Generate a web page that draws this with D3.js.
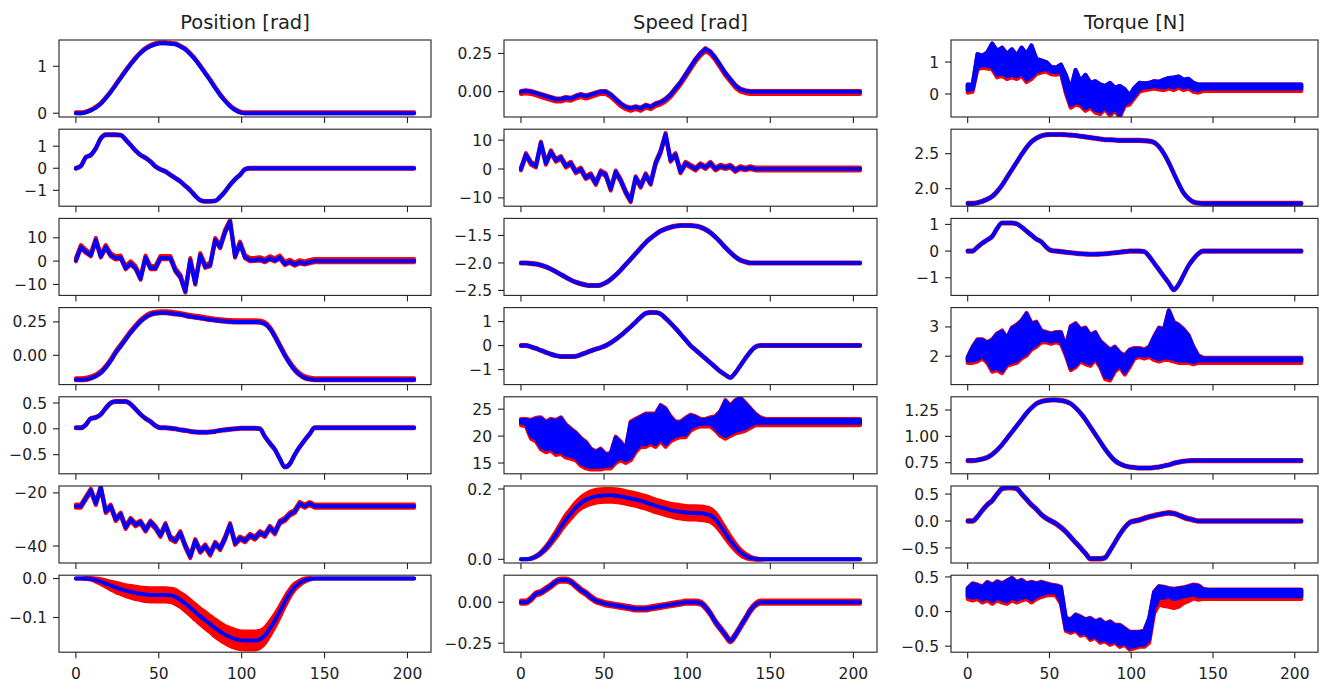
<!DOCTYPE html>
<html>
<head>
<meta charset="utf-8">
<script src="https://cdnjs.cloudflare.com/ajax/libs/d3/7.8.5/d3.min.js"></script>
<style>
body { margin: 0; background: #fff; }
svg { display: block; }
text { font-family: "DejaVu Sans", sans-serif; fill: #222; }
</style>
</head>
<body>
<div id="chart"></div>
<script>
// sample grid (time step)
var X = [0,3,6,9,12,15,18,21,24,27, 30,33,36,39,42,45,48,51,54,57,
         60,63,66,69,72,75,78,81,84,87, 90,93,96,99,102,105,108,111,114,117,
         120,123,126,129,132,135,138,141,144,147, 204];
var xTicks = [0, 50, 100, 150, 200];
var titles = ["Position [rad]", "Speed [rad]", "Torque [N]"];

// ---- Position column
var pos1 = [0,0,0.02,0.06,0.12,0.2,0.32,0.45,0.6,0.75,
            0.9,1.04,1.17,1.28,1.37,1.43,1.47,1.49,1.49,1.48,
            1.47,1.42,1.36,1.26,1.14,1.0,0.85,0.7,0.54,0.39,
            0.26,0.15,0.07,0.02,0,0,0,0,0,0,
            0,0,0,0,0,0,0,0,0,0, 0];
var pos2 = [0,0.1,0.5,0.6,0.9,1.35,1.52,1.52,1.52,1.5,
            1.3,1.05,0.8,0.6,0.47,0.3,0.08,-0.05,-0.15,-0.3,
            -0.45,-0.6,-0.8,-1.0,-1.25,-1.45,-1.5,-1.5,-1.48,-1.3,
            -1.05,-0.75,-0.5,-0.3,-0.05,0,0,0,0,0,
            0,0,0,0,0,0,0,0,0,0, 0];
var pos3 = [0.4,6,4,2.5,9,2,6,2.5,1.2,1.5,
            -3,-1,-3,-7.5,1.5,-3,-3,1.3,1.3,1.3,
            -4,-6.7,-13,0.4,-9.6,2.6,-2.4,-1.7,9,6,
            12.6,16.9,2,7.5,1.7,0.4,0.5,0.8,0,1.2,
            0.3,1.5,-1.2,-0.3,-1.5,-0.5,-1,-0.4,0,0, 0];
var pos4 = [-0.183,-0.183,-0.18,-0.17,-0.155,-0.13,-0.09,-0.04,0.02,0.07,
            0.12,0.17,0.215,0.255,0.285,0.305,0.315,0.318,0.318,0.315,
            0.31,0.305,0.298,0.29,0.285,0.28,0.273,0.268,0.262,0.258,
            0.255,0.252,0.25,0.25,0.25,0.25,0.25,0.248,0.235,0.2,
            0.14,0.07,0.0,-0.06,-0.11,-0.145,-0.168,-0.178,-0.183,-0.183, -0.183];
var pos5 = [0.02,0.02,0.08,0.2,0.22,0.28,0.4,0.5,0.53,0.53,
            0.53,0.48,0.38,0.28,0.2,0.14,0.06,0.02,0.02,0.01,
            0,-0.02,-0.03,-0.05,-0.06,-0.065,-0.065,-0.06,-0.05,-0.03,
            -0.02,-0.01,0,0.01,0.01,0.01,0.01,0,-0.15,-0.28,
            -0.4,-0.58,-0.74,-0.68,-0.5,-0.35,-0.22,-0.1,0.02,0.02, 0.02];
var pos6 = [-25,-25,-22,-19,-24,-18,-27,-25,-30,-28,
            -33,-30,-32,-31,-34,-31,-33,-36,-32,-37,
            -38,-35,-40,-44,-38,-42,-40,-43,-39,-41,
            -37,-32,-39,-37,-38,-36,-37,-35,-36,-33,
            -35,-31,-30,-28,-27,-24,-25,-24,-25,-25, -25];
var pos7 = [0,0,0,-0.001,-0.004,-0.008,-0.013,-0.018,-0.023,-0.027,
            -0.031,-0.034,-0.037,-0.039,-0.041,-0.042,-0.042,-0.042,-0.042,-0.043,
            -0.047,-0.055,-0.064,-0.075,-0.086,-0.097,-0.107,-0.117,-0.127,-0.136,
            -0.144,-0.15,-0.155,-0.158,-0.159,-0.159,-0.159,-0.156,-0.146,-0.128,
            -0.108,-0.085,-0.06,-0.038,-0.021,-0.011,-0.004,-0.001,0,0, 0];
var pos7Spread = [0,0,0.001,0.002,0.004,0.006,0.008,0.01,0.012,0.013,
            0.014,0.015,0.016,0.016,0.017,0.017,0.017,0.017,0.017,0.017,
            0.018,0.018,0.019,0.019,0.02,0.02,0.021,0.021,0.022,0.022,
            0.022,0.023,0.023,0.023,0.023,0.023,0.023,0.022,0.02,0.018,
            0.016,0.014,0.012,0.01,0.008,0.006,0.004,0.002,0,0, 0];

// ---- Speed column
var spd1 = [0,0.005,0,-0.01,-0.02,-0.03,-0.04,-0.05,-0.05,-0.04,
            -0.045,-0.03,-0.02,-0.03,-0.02,-0.01,0,0,-0.02,-0.05,
            -0.08,-0.1,-0.11,-0.1,-0.11,-0.09,-0.1,-0.08,-0.07,-0.05,
            -0.02,0.02,0.06,0.11,0.16,0.21,0.25,0.28,0.26,0.22,
            0.17,0.12,0.08,0.04,0.015,0.005,0,0,0,0, 0];
var spd2 = [0,5,2,1,9,2,6,3,4,1,
            2,-1,0,-3,-2,-5,-1,-2,-7,-1,
            -4,-8,-11,-3,-6,-2,-5,2,6,12,
            3,5,-1,2,1,0,1.5,0.5,2,0,
            1,0.5,1,-0.5,0.5,0,0.5,0,0,0, 0];
var spd3 = [-2.0,-2.0,-2.01,-2.02,-2.04,-2.07,-2.11,-2.16,-2.21,-2.26,
            -2.31,-2.35,-2.38,-2.4,-2.41,-2.41,-2.4,-2.36,-2.3,-2.22,
            -2.13,-2.03,-1.93,-1.83,-1.73,-1.63,-1.55,-1.48,-1.42,-1.38,
            -1.35,-1.33,-1.32,-1.32,-1.32,-1.33,-1.35,-1.39,-1.45,-1.53,
            -1.62,-1.72,-1.81,-1.89,-1.95,-1.98,-2.0,-2.0,-2.0,-2.0, -2.0];
var spd4 = [0,0,-0.05,-0.12,-0.2,-0.28,-0.36,-0.42,-0.45,-0.45,
            -0.45,-0.44,-0.38,-0.3,-0.22,-0.15,-0.08,0,0.12,0.26,
            0.42,0.6,0.78,0.98,1.18,1.34,1.38,1.38,1.32,1.14,
            0.94,0.72,0.48,0.24,0,-0.18,-0.36,-0.54,-0.72,-0.9,
            -1.08,-1.22,-1.33,-1.13,-0.83,-0.53,-0.26,-0.06,0,0, 0];
var spd5Lo = [22.5,22.3,20,19.5,18,17.5,17.8,17,17.2,16.5,
            16.3,16,15,14.5,14.3,14.3,14.3,14.5,14.5,15.5,
            16,15.5,16,17.5,18.5,18.5,19,18.5,19.5,18.5,
            19.5,20,20.3,20.3,21.5,22,22.3,22.3,22.3,21.5,
            20.5,20,20.5,21,21.2,21.5,22,22.5,22.5,22.5, 22.5];
var spd5Hi = [23,23,22.8,23.2,23.3,22.5,23,22.8,23.3,22,
            21.2,20.5,19.5,18.8,17.5,17,17.5,16.5,16.7,19.7,
            18.8,17.5,22.5,23,23.5,24,24,24,25.6,25,
            23.5,22.5,22.5,23.2,23.8,23.5,23,23,23.3,23.5,
            24.5,26.5,25.5,26.5,27,26,25,24,23.3,23, 23];
var spd6 = [0,0,0.002,0.008,0.018,0.032,0.05,0.07,0.092,0.113,
            0.13,0.147,0.16,0.169,0.175,0.179,0.181,0.182,0.182,0.181,
            0.179,0.176,0.173,0.17,0.166,0.162,0.157,0.152,0.148,0.144,
            0.14,0.137,0.135,0.133,0.132,0.132,0.131,0.129,0.125,0.114,
            0.095,0.074,0.053,0.035,0.02,0.01,0.004,0.001,0,0, 0];
var spd6Spread = [0,0,0.001,0.002,0.003,0.005,0.007,0.009,0.011,0.013,
            0.014,0.015,0.016,0.017,0.018,0.018,0.018,0.018,0.018,0.018,
            0.018,0.018,0.018,0.018,0.018,0.018,0.018,0.018,0.018,0.018,
            0.018,0.019,0.019,0.019,0.019,0.019,0.019,0.019,0.019,0.018,
            0.016,0.014,0.012,0.01,0.008,0.006,0.004,0.002,0.001,0, 0];
var spd7 = [0,0,0.02,0.05,0.06,0.08,0.1,0.125,0.135,0.135,
            0.125,0.1,0.075,0.055,0.03,0.01,0,-0.01,-0.015,-0.02,
            -0.025,-0.03,-0.035,-0.04,-0.04,-0.04,-0.035,-0.03,-0.025,-0.02,
            -0.015,-0.01,-0.005,0,0,0,-0.005,-0.03,-0.07,-0.12,
            -0.16,-0.2,-0.235,-0.2,-0.15,-0.1,-0.05,-0.015,0,0, 0];

// ---- Torque column
var trq1Lo = [0.12,0.15,0.85,0.9,0.88,0.85,0.6,0.65,0.55,0.6,
            0.55,0.65,0.45,0.55,0.7,0.75,0.78,0.7,0.68,0.72,
            0.1,-0.35,-0.25,-0.3,-0.45,-0.35,-0.5,-0.55,-0.4,-0.6,
            -0.45,-0.65,-0.3,-0.25,-0.05,0.15,0.2,0.22,0.25,0.22,
            0.2,0.25,0.2,0.28,0.2,0.25,0.15,0.12,0.17,0.17, 0.17];
var trq1Hi = [0.3,0.28,1.25,1.2,1.3,1.58,1.35,1.45,1.25,1.4,
            1.2,1.45,1.25,1.52,1.1,1.05,1.0,0.85,0.82,0.92,
            0.6,0.15,0.75,0.4,0.6,0.35,0.4,0.3,0.25,0.35,
            0.2,0.25,0.15,-0.05,0.2,0.35,0.33,0.35,0.4,0.38,
            0.45,0.5,0.52,0.55,0.45,0.48,0.35,0.3,0.3,0.3, 0.3];
var trq2 = [1.79,1.79,1.8,1.82,1.85,1.89,1.96,2.05,2.16,2.27,
            2.38,2.49,2.59,2.67,2.72,2.755,2.77,2.775,2.775,2.775,
            2.77,2.765,2.76,2.75,2.74,2.73,2.72,2.71,2.7,2.7,
            2.695,2.69,2.69,2.69,2.69,2.69,2.685,2.68,2.66,2.6,
            2.5,2.37,2.22,2.07,1.94,1.86,1.81,1.795,1.79,1.79, 1.79];
var trq3 = [0,0,0.15,0.3,0.42,0.55,0.85,1.05,1.05,1.05,
            1.02,0.9,0.75,0.6,0.45,0.35,0.15,0.02,0,-0.02,
            -0.04,-0.06,-0.08,-0.1,-0.11,-0.12,-0.12,-0.11,-0.1,-0.08,
            -0.06,-0.04,-0.02,0,0,0,-0.02,-0.2,-0.45,-0.7,
            -0.95,-1.2,-1.45,-1.25,-0.9,-0.55,-0.3,-0.1,0,0, 0];
var trq4Lo = [1.85,1.85,1.9,2.0,1.85,1.55,1.6,1.5,1.75,1.8,
            1.85,2.0,2.1,2.3,2.4,2.55,2.55,2.5,2.55,2.5,
            2.1,1.6,1.7,1.9,1.8,1.75,1.95,1.7,1.3,1.25,
            1.55,1.7,1.45,1.7,2.0,2.05,2.0,2.05,1.95,1.9,
            1.95,1.95,1.9,1.85,1.85,1.85,1.8,1.85,1.85,1.85, 1.85];
var trq4Hi = [1.95,2.3,2.55,2.55,2.45,2.55,2.75,2.85,2.6,2.95,
            3.05,3.2,3.45,3.1,3.15,2.85,2.8,2.75,2.8,2.8,
            2.3,3.0,3.1,2.9,2.95,2.7,2.8,2.5,2.35,2.2,
            2.3,2.1,2.0,2.2,2.25,2.25,2.2,2.3,2.65,2.95,
            2.9,3.55,3.15,3.05,2.9,2.7,2.3,2.0,1.92,1.92, 1.92];
var trq5 = [0.77,0.77,0.775,0.785,0.8,0.83,0.87,0.92,0.98,1.04,
            1.1,1.16,1.22,1.27,1.31,1.33,1.34,1.345,1.345,1.34,
            1.33,1.31,1.27,1.22,1.16,1.09,1.02,0.95,0.88,0.82,
            0.77,0.74,0.72,0.71,0.705,0.7,0.7,0.7,0.705,0.71,
            0.72,0.73,0.745,0.755,0.763,0.768,0.77,0.77,0.77,0.77, 0.77];
var trq6 = [0,0,0.08,0.2,0.3,0.38,0.5,0.6,0.62,0.62,
            0.6,0.5,0.4,0.3,0.22,0.12,0.05,0,-0.05,-0.12,
            -0.2,-0.3,-0.4,-0.5,-0.6,-0.7,-0.7,-0.7,-0.68,-0.55,
            -0.4,-0.25,-0.12,-0.03,0,0.02,0.05,0.08,0.1,0.12,
            0.14,0.15,0.14,0.11,0.07,0.04,0.02,0,0,0, 0];
var trq7Lo = [0.22,0.2,0.22,0.17,0.2,0.15,0.2,0.17,0.15,0.2,
            0.17,0.2,0.22,0.17,0.22,0.25,0.27,0.28,0.27,0.15,
            -0.25,-0.28,-0.25,-0.32,-0.3,-0.38,-0.35,-0.42,-0.4,-0.45,
            -0.42,-0.48,-0.45,-0.52,-0.5,-0.48,-0.48,-0.4,0.05,0.2,
            0.2,0.22,0.18,0.2,0.22,0.23,0.25,0.22,0.22,0.22, 0.22];
var trq7Hi = [0.33,0.4,0.38,0.35,0.42,0.38,0.43,0.4,0.44,0.48,
            0.42,0.45,0.4,0.42,0.4,0.42,0.4,0.38,0.37,0.35,
            -0.1,-0.12,-0.05,-0.08,-0.12,-0.1,-0.15,-0.12,-0.18,-0.15,
            -0.2,-0.2,-0.25,-0.3,-0.3,-0.3,-0.28,-0.1,0.28,0.36,
            0.35,0.33,0.32,0.33,0.34,0.36,0.38,0.37,0.32,0.31, 0.31];
var trq7RedDn = [0.04,0.04,0.04,0.04,0.04,0.04,0.04,0.04,0.04,0.04,
            0.04,0.04,0.04,0.04,0.04,0.04,0.04,0.04,0.04,0.04,
            0.03,0.03,0.03,0.03,0.03,0.03,0.03,0.03,0.03,0.03,
            0.03,0.03,0.03,0.03,0.03,0.03,0.03,0.05,0.08,0.1,
            0.12,0.15,0.13,0.13,0.1,0.08,0.06,0.05,0.04,0.04, 0.04];

// axis limits, y ticks, tick formats
var posDom = [[-0.08,1.56],[-1.72,1.77],[-14.7,18.3],[-0.219,0.357],[-0.87,0.62],[-46.4,-17.4],[-0.189,0.0085]];
var spdDom = [[-0.166,0.338],[-12.9,13.8],[-2.59,-1.19],[-1.625,1.583],[13.0,27.3],[-0.0105,0.2085],[-0.305,0.165]];
var trqDom = [[-0.72,1.69],[1.75,2.85],[-1.66,1.225],[1.03,3.66],[0.645,1.375],[-0.78,0.65],[-0.587,0.525]];
var posTicks = [[0,1],[-1,0,1],[-10,0,10],[0,0.25],[-0.5,0,0.5],[-40,-20],[-0.1,0]];
var spdTicks = [[0,0.25],[-10,0,10],[-2.5,-2,-1.5],[-1,0,1],[15,20,25],[0,0.2],[-0.25,0]];
var trqTicks = [[0,1],[2,2.5],[-1,0,1],[2,3],[0.75,1,1.25],[-0.5,0,0.5],[-0.5,0,0.5]];
var posFmt = ["d","d","d",".2f",".1f","d",".1f"];
var spdFmt = [".2f","d",".1f","d","d",".1f",".2f"];
var trqFmt = ["d",".1f","d","d",".2f",".1f",".1f"];

// series table built from the arrays above (up/dn = red band beyond the blue)
var columns = [
  [
    {lo: pos1, up: 0.02, dn: 0},
    {lo: pos2, up: 0.02, dn: 0.02},
    {lo: pos3, up: 0.9, dn: 0.5, noisy: true},
    {lo: pos4, up: 0.012, dn: 0.004},
    {lo: pos5, up: 0.01, dn: 0.01},
    {lo: pos6, up: 0.6, dn: 0.6, noisy: true},
    {lo: pos7, up: pos7Spread, dn: pos7Spread}
  ],
  [
    {lo: spd1, up: 0.005, dn: 0.015, noisy: true},
    {lo: spd2, up: 0.5, dn: 0.5, noisy: true},
    {lo: spd3, up: 0.01, dn: 0.01},
    {lo: spd4, up: 0.02, dn: 0.02},
    {lo: spd5Lo, hi: spd5Hi, up: 0.2, dn: 0.5, noisy: true},
    {lo: spd6, up: spd6Spread, dn: spd6Spread},
    {lo: spd7, up: 0.01, dn: 0.01}
  ],
  [
    {lo: trq1Lo, hi: trq1Hi, up: 0, dn: 0.08, noisy: true},
    {lo: trq2, up: 0.008, dn: 0.008},
    {lo: trq3, up: 0.02, dn: 0.02},
    {lo: trq4Lo, hi: trq4Hi, up: 0.03, dn: 0.08, noisy: true},
    {lo: trq5, up: 0.005, dn: 0.005},
    {lo: trq6, up: 0.015, dn: 0.015},
    {lo: trq7Lo, hi: trq7Hi, up: 0.01, dn: trq7RedDn, noisy: true}
  ]
];
var doms = [posDom, spdDom, trqDom];
var ticks = [posTicks, spdTicks, trqTicks];
var fmts = [posFmt, spdFmt, trqFmt];

// layout
var colLeft = [59, 504, 951];
var colWidth = [372, 373, 367];
var rowTop = 40, rowStep = 89.2, rowHeight = 77;
var tickFont = 15.5, titleFont = 19.5;

var svg = d3.select("#chart").append("svg")
    .attr("width", 1326)
    .attr("height", 683);

function pick(v, i) {
    return Array.isArray(v) ? v[i] : v;
}

function drawSeries(plot, rows, x, y, s, color, lo, hi) {
    var area = d3.area()
        .x(function(d) { return x(d.x); })
        .y0(function(d) { return y(lo(d)); })
        .y1(function(d) { return y(hi(d)); })
        .curve(s.noisy ? d3.curveLinear : d3.curveMonotoneX);
    plot.append("path")
        .attr("d", area(rows))
        .attr("fill", color)
        .attr("stroke", color)
        .attr("stroke-width", 4)
        .attr("stroke-linejoin", "round");
}

var clipId = 0;
function drawPanel(c, r) {
    var s = columns[c][r];
    var w = colWidth[c], h = rowHeight;
    var g = svg.append("g")
        .attr("transform", "translate(" + colLeft[c] + "," + (rowTop + r * rowStep) + ")");

    var x = d3.scaleLinear().domain([-10.2, 214.2]).range([0, w]);
    var y = d3.scaleLinear().domain(doms[c][r]).range([h, 0]);

    var rows = X.map(function(xv, i) {
        var lo = s.lo[i];
        var hi = s.hi ? s.hi[i] : lo;
        return {x: xv, lo: lo, hi: hi, dn: pick(s.dn, i), up: pick(s.up, i)};
    });

    var id = "clip" + (clipId++);
    g.append("clipPath").attr("id", id)
        .append("rect").attr("width", w).attr("height", h);
    var plot = g.append("g").attr("clip-path", "url(#" + id + ")");

    drawSeries(plot, rows, x, y, s, "#ff0000",
        function(d) { return d.lo - d.dn; },
        function(d) { return d.hi + d.up; });
    drawSeries(plot, rows, x, y, s, "#0000ff",
        function(d) { return d.lo; },
        function(d) { return d.hi; });

    // frame
    g.append("rect")
        .attr("width", w)
        .attr("height", h)
        .attr("fill", "none")
        .attr("stroke", "#222")
        .attr("stroke-width", 1.1);

    // x ticks
    g.selectAll(".xt").data(xTicks).enter().append("line")
        .attr("x1", function(d) { return x(d); })
        .attr("x2", function(d) { return x(d); })
        .attr("y1", h)
        .attr("y2", h + 6)
        .attr("stroke", "#222")
        .attr("stroke-width", 1.1);
    if (r == 6) {
        g.selectAll(".xl").data(xTicks).enter().append("text")
            .attr("x", function(d) { return x(d); })
            .attr("y", h + 27)
            .attr("text-anchor", "middle")
            .attr("font-size", tickFont)
            .text(function(d) { return d; });
    }

    // y ticks
    var f = d3.format(fmts[c][r]);
    g.selectAll(".yt").data(ticks[c][r]).enter().append("line")
        .attr("x1", -6)
        .attr("x2", 0)
        .attr("y1", function(d) { return y(d); })
        .attr("y2", function(d) { return y(d); })
        .attr("stroke", "#222")
        .attr("stroke-width", 1.1);
    g.selectAll(".yl").data(ticks[c][r]).enter().append("text")
        .attr("x", -12)
        .attr("y", function(d) { return y(d); })
        .attr("dy", "0.36em")
        .attr("text-anchor", "end")
        .attr("font-size", tickFont)
        .text(function(d) { return f(d); });
}

for (var c = 0; c < 3; c++) {
    for (var r = 0; r < 7; r++) {
        drawPanel(c, r);
    }
    svg.append("text")
        .attr("x", colLeft[c] + colWidth[c] / 2)
        .attr("y", 29)
        .attr("text-anchor", "middle")
        .attr("font-size", titleFont)
        .text(titles[c]);
}
</script>
</body>
</html>
